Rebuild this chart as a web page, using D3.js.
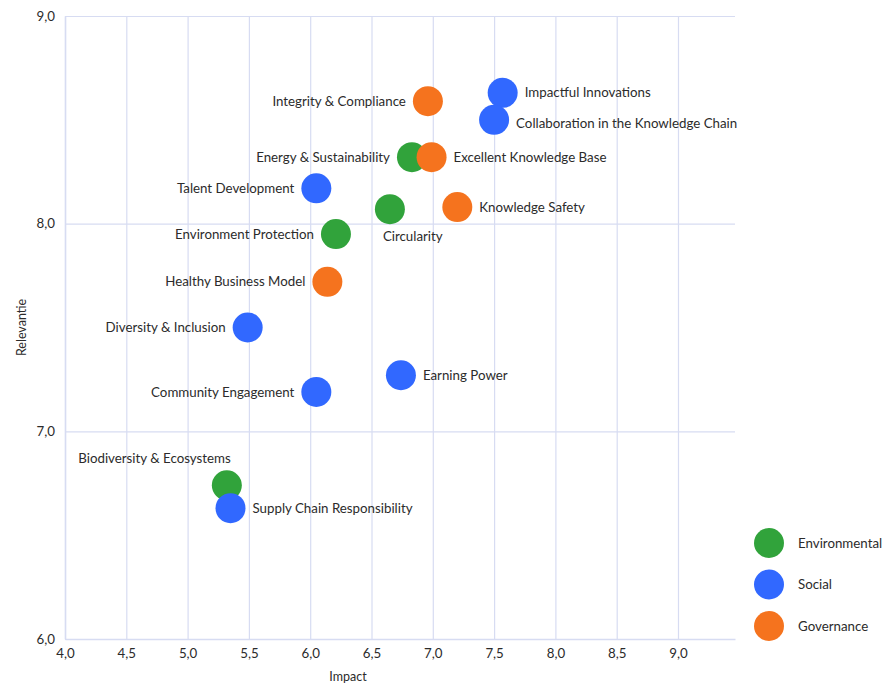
<!DOCTYPE html>
<html>
<head>
<meta charset="utf-8">
<script src="https://cdn.jsdelivr.net/npm/d3@7"></script>
<style>
  html, body { margin: 0; padding: 0; background: #fff; }
  svg { display: block; font-family: Lato, "Open Sans", sans-serif; }
</style>
</head>
<body>
<svg id="chart" width="886" height="684"></svg>
<script>
// ---- Data ----
const names = [
  "Impactful Innovations", "Collaboration in the Knowledge Chain", "Integrity & Compliance",
  "Energy & Sustainability", "Excellent Knowledge Base", "Knowledge Safety", "Circularity",
  "Talent Development", "Environment Protection", "Healthy Business Model",
  "Diversity & Inclusion", "Community Engagement", "Earning Power",
  "Biodiversity & Ecosystems", "Supply Chain Responsibility"
];
const impact = [7.57, 7.50, 6.96, 6.83, 6.99, 7.20, 6.65, 6.05, 6.21, 6.14, 5.49, 6.05, 6.74, 5.32, 5.35];
const relevance = [8.63, 8.50, 8.59, 8.32, 8.32, 8.08, 8.07, 8.17, 7.95, 7.72, 7.50, 7.19, 7.27, 6.74, 6.63];
const category = [
  "Social", "Social", "Governance", "Environmental", "Governance", "Governance", "Environmental",
  "Social", "Environmental", "Governance", "Social", "Social", "Social", "Environmental", "Social"
];
const labelSide = [
  "right", "rightLow", "left", "left", "right", "right", "below",
  "left", "left", "left", "left", "left", "right", "aboveLeft", "right"
];
const categories = ["Environmental", "Social", "Governance"];
const xTicks = [4.0, 4.5, 5.0, 5.5, 6.0, 6.5, 7.0, 7.5, 8.0, 8.5, 9.0];
const yTicks = [6.0, 7.0, 8.0, 9.0];
const xTitle = "Impact";
const yTitle = "Relevantie";

// ---- Styles ----
const colors = { Environmental: "#31a33b", Social: "#3168ff", Governance: "#f5731e" };
const gridColor = "#d7dcf2";
const textColor = "#2b2b2b";
const R = 15;
const FS = 13.3;

const svg = d3.select("#chart");
const pL = 65, pR = 735, pT = 16, pB = 639;

const x = d3.scaleLinear().domain([4, 9.465]).range([pL, pR]);
const y = d3.scaleLinear().domain([6, 9]).range([pB, pT]);
const fmt = v => d3.format(".1f")(v).replace(".", ",");

// X axis with vertical gridlines
const gx = svg.append("g").attr("transform", `translate(0,${pB})`)
  .call(d3.axisBottom(x).tickValues(xTicks).tickFormat(fmt)
    .tickSizeInner(-(pB - pT)).tickSizeOuter(0).tickPadding(10));
gx.select(".domain").attr("stroke", gridColor).attr("stroke-width", 1.5);
gx.selectAll(".tick line").attr("stroke", gridColor).attr("stroke-width", 1.2);
gx.selectAll(".tick text").attr("fill", textColor).attr("font-size", FS)
  .attr("font-family", "Lato, sans-serif");

// Y axis with horizontal gridlines
const gy = svg.append("g").attr("transform", `translate(${pL},0)`)
  .call(d3.axisLeft(y).tickValues(yTicks).tickFormat(fmt)
    .tickSizeInner(-(pR - pL)).tickSizeOuter(0).tickPadding(10));
gy.select(".domain").attr("stroke", gridColor).attr("stroke-width", 1.5);
gy.selectAll(".tick line").attr("stroke", gridColor).attr("stroke-width", 1.2);
gy.selectAll(".tick text").attr("fill", textColor).attr("font-size", FS)
  .attr("font-family", "Lato, sans-serif").attr("dy", "0.32em");

// Axis titles
svg.append("text").attr("x", 348).attr("y", 681).attr("text-anchor", "middle")
  .attr("fill", textColor).attr("font-size", 12.5).text(xTitle);
svg.append("text").attr("transform", `translate(26,${(pT + pB) / 2}) rotate(-90)`)
  .attr("text-anchor", "middle").attr("fill", textColor).attr("font-size", 12.5).text(yTitle);

// Points
const data = names.map((n, i) => ({ name: n, x: impact[i], y: relevance[i], cat: category[i], side: labelSide[i] }));

svg.append("g").selectAll("circle").data(data).join("circle")
  .attr("cx", d => x(d.x)).attr("cy", d => y(d.y)).attr("r", R)
  .attr("fill", d => colors[d.cat]);

// Labels
svg.append("g").selectAll("text").data(data).join("text")
  .attr("fill", textColor).attr("font-size", FS)
  .text(d => d.name)
  .each(function (d) {
    const t = d3.select(this);
    const cx = x(d.x), cy = y(d.y);
    if (d.side === "right") {
      t.attr("x", cx + 22).attr("y", cy).attr("dy", "0.35em").attr("text-anchor", "start");
    } else if (d.side === "rightLow") {
      t.attr("x", cx + 22).attr("y", cy + 4).attr("dy", "0.35em").attr("text-anchor", "start");
    } else if (d.side === "left") {
      t.attr("x", cx - 22).attr("y", cy).attr("dy", "0.35em").attr("text-anchor", "end");
    } else if (d.side === "below") {
      t.attr("x", cx - 7).attr("y", cy + 27).attr("dy", "0.35em").attr("text-anchor", "start");
    } else {
      t.attr("x", cx + 4).attr("y", cy - 27).attr("dy", "0.35em").attr("text-anchor", "end");
    }
  });

// Legend
const lg = svg.append("g").selectAll("g").data(categories).join("g")
  .attr("transform", (d, i) => `translate(769,${543 + i * 41.5})`);
lg.append("circle").attr("r", R).attr("fill", d => colors[d]);
lg.append("text").attr("x", 29).attr("dy", "0.35em").attr("fill", textColor)
  .attr("font-size", FS).text(d => d);
</script>
</body>
</html>
